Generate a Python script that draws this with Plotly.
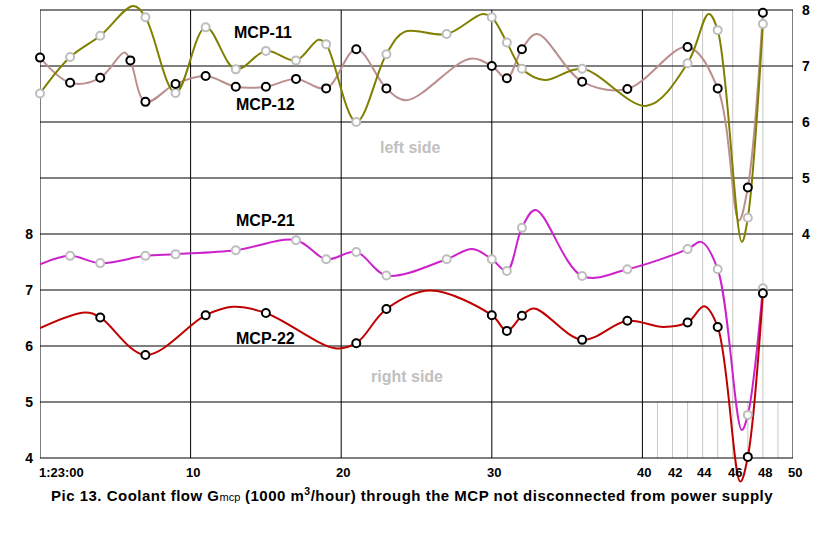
import plotly.graph_objects as go

# ---------------- data (time in seconds after 1:23:00) ----------------
# MCP-11 (right axis) : smoothed curve knots and measured points
mcp11_line_t = [0, 2, 4, 6.2, 7, 9, 11, 13, 15, 17, 18.5, 19, 21, 23, 24.2, 27, 29.4, 30, 31, 32, 33.5, 36, 40.3, 43, 44.4, 45, 46.6, 47, 48]
mcp11_line_v = [6.51, 7.16, 7.54, 8.07, 7.87, 6.52, 7.69, 6.94, 7.27, 7.10, 7.47, 7.39, 6.00, 7.21, 7.61, 7.57, 7.93, 7.87, 7.42, 6.95, 6.75, 6.95, 6.29, 7.05, 7.93, 7.64, 3.86, 4.29, 7.75]
mcp11_pt_t = [0, 2, 4, 7, 9, 11, 13, 15, 17, 19, 21, 23, 27, 30, 31, 32, 36, 43, 45, 47, 48]
mcp11_pt_v = [6.51, 7.16, 7.54, 7.87, 6.52, 7.69, 6.94, 7.27, 7.10, 7.39, 6.00, 7.21, 7.57, 7.87, 7.42, 6.95, 6.95, 7.05, 7.64, 4.29, 7.75]

# MCP-12 (right axis)
mcp12_line_t = [0, 2, 4, 5.6, 6, 7, 9, 11, 13, 15, 17, 19, 21, 23, 24.35, 28.55, 30, 31, 32, 33, 36, 39, 43, 45, 46.4, 47, 48]
mcp12_line_v = [7.15, 6.70, 6.79, 7.24, 7.10, 6.36, 6.68, 6.82, 6.63, 6.63, 6.77, 6.60, 7.30, 6.60, 6.39, 7.13, 7.00, 6.78, 7.30, 7.57, 6.72, 6.59, 7.34, 6.60, 4.24, 4.83, 7.95]
mcp12_pt_t = [0, 2, 4, 6, 7, 9, 11, 13, 15, 17, 19, 21, 23, 30, 31, 32, 36, 39, 43, 45, 47, 48]
mcp12_pt_v = [7.15, 6.70, 6.79, 7.10, 6.36, 6.68, 6.82, 6.63, 6.63, 6.77, 6.60, 7.30, 6.60, 7.00, 6.78, 7.30, 6.72, 6.59, 7.34, 6.60, 4.83, 7.95]

# MCP-21 (left axis)
mcp21_line_t = [0, 2, 4, 7, 9, 13, 17, 19, 21, 23, 27, 28.7, 30, 31, 32, 32.9, 36, 39, 43, 43.9, 45, 46.6, 47, 48]
mcp21_line_v = [7.46, 7.61, 7.48, 7.61, 7.64, 7.71, 7.89, 7.55, 7.68, 7.26, 7.55, 7.73, 7.55, 7.34, 8.11, 8.43, 7.25, 7.37, 7.73, 7.86, 7.37, 4.50, 4.77, 7.03]
mcp21_pt_t = [2, 4, 7, 9, 13, 17, 19, 21, 23, 27, 30, 31, 32, 36, 39, 43, 45, 47, 48]
mcp21_pt_v = [7.61, 7.48, 7.61, 7.64, 7.71, 7.89, 7.55, 7.68, 7.26, 7.55, 7.55, 7.34, 8.11, 7.25, 7.37, 7.73, 7.37, 4.77, 7.03]

# MCP-22 (left axis)
mcp22_line_t = [0, 3, 4, 7, 11, 12.8, 15, 19.6, 21, 23, 25.9, 30, 31, 32, 32.8, 36, 39, 41.4, 43, 44.1, 45, 46.5, 47, 48]
mcp22_line_v = [6.32, 6.60, 6.51, 5.84, 6.55, 6.70, 6.59, 5.96, 6.05, 6.66, 6.99, 6.55, 6.27, 6.54, 6.67, 6.11, 6.45, 6.34, 6.42, 6.71, 6.34, 3.58, 4.02, 6.94]
mcp22_pt_t = [4, 7, 11, 15, 21, 23, 30, 31, 32, 36, 39, 43, 45, 47, 48]
mcp22_pt_v = [6.51, 5.84, 6.55, 6.59, 6.05, 6.66, 6.55, 6.27, 6.54, 6.11, 6.45, 6.42, 6.34, 4.02, 6.94]

x_tick_vals = [0, 10, 20, 30, 40, 42, 44, 46, 48, 50]
x_tick_text = ["1:23:00", "10", "20", "30", "40", "42", "44", "46", "48", "50"]
x_major_grid = [0, 10, 20, 30, 40, 50]
left_tick_vals = [4, 5, 6, 7, 8]
h_grid_left = [4, 5, 6, 7, 8, 9, 10, 11, 12]
right_tick_vals = [4, 5, 6, 7, 8]
fine_grid_full = [42, 44, 46, 48]
fine_grid_band = [41, 43, 45, 47, 49]

FONT = "Liberation Sans, Arial, sans-serif"
C11, C12, C21, C22 = "#808000", "#BC8F8F", "#CC22CC", "#C00000"
GRAY_M = "#BEBEBE"

# frame of the chart in left-axis units (4..12); axis ranges are a bit wider
# so that curves may run past the frame as in the original
Y_LO, Y_HI = 4, 12

fig = go.Figure()

def add_line(t, v, color, yaxis):
    fig.add_trace(go.Scatter(x=t, y=v, mode="lines", yaxis=yaxis,
                             line=dict(color=color, width=2, shape="spline", smoothing=1.0),
                             hoverinfo="skip"))

def add_pts(t, v, edge, yaxis):
    fig.add_trace(go.Scatter(x=t, y=v, mode="markers", yaxis=yaxis,
                             marker=dict(symbol="circle", size=8, color="white",
                                         line=dict(color=edge, width=2)),
                             hoverinfo="skip", cliponaxis=False))

add_line(mcp12_line_t, mcp12_line_v, C12, "y2")
add_line(mcp11_line_t, mcp11_line_v, C11, "y2")
add_line(mcp21_line_t, mcp21_line_v, C21, "y")
add_line(mcp22_line_t, mcp22_line_v, C22, "y")
add_pts(mcp11_pt_t, mcp11_pt_v, GRAY_M, "y2")
add_pts(mcp12_pt_t, mcp12_pt_v, "black", "y2")
add_pts(mcp21_pt_t, mcp21_pt_v, GRAY_M, "y")
add_pts(mcp22_pt_t, mcp22_pt_v, "black", "y")

shapes = []
for xv in fine_grid_full:
    shapes.append(dict(type="line", xref="x", yref="y", x0=xv, x1=xv, y0=Y_LO, y1=Y_HI,
                       line=dict(color="#C8C8C8", width=1), layer="below"))
for xv in fine_grid_band:
    shapes.append(dict(type="line", xref="x", yref="y", x0=xv, x1=xv, y0=Y_LO, y1=Y_LO + 1,
                       line=dict(color="#C8C8C8", width=1), layer="below"))
for yv in h_grid_left:
    shapes.append(dict(type="line", xref="x", yref="y", x0=0, x1=50, y0=yv, y1=yv,
                       line=dict(color="black", width=1), layer="below"))
for xv in x_major_grid:
    shapes.append(dict(type="line", xref="x", yref="y", x0=xv, x1=xv, y0=Y_LO, y1=Y_HI,
                       line=dict(color="black", width=1), layer="below"))

annotations = []
for xv, txt in zip(x_tick_vals, x_tick_text):
    annotations.append(dict(x=xv, y=3.74, xref="x", yref="y", text="<b>%s</b>" % txt,
                            showarrow=False, xanchor="left" if xv == 0 else "center",
                            xshift=-3 if xv == 0 else 2, yanchor="middle",
                            font=dict(family=FONT, size=13, color="black")))

labels = [
    (14.8, 7.59, "MCP-11", "y2", "black"),
    (14.95, 6.32, "MCP-12", "y2", "black"),
    (24.57, 5.55, "left side", "y2", "#C0C0C0"),
    (15.0, 8.25, "MCP-21", "y", "black"),
    (15.0, 6.14, "MCP-22", "y", "black"),
    (24.37, 5.46, "right side", "y", "#C0C0C0"),
]
for xv, yv, txt, yr, col in labels:
    annotations.append(dict(x=xv, y=yv, xref="x", yref=yr, text="<b>%s</b>" % txt,
                            showarrow=False, xanchor="center", yanchor="middle",
                            font=dict(family=FONT, size=16, color=col)))

annotations.append(dict(
    x=0.494, y=-0.0186, xref="paper", yref="paper", showarrow=False,
    xanchor="center", yanchor="middle",
    text="<span style='letter-spacing:0.5px'><b>Pic 13. Coolant flow G</b>"
         "<span style='font-size:11px;letter-spacing:0px'>mcp</span>"
         "<b> (1000 m<sup>3</sup>/hour) through the MCP not disconnected from power supply</b></span>",
    font=dict(family=FONT, size=15, color="black")))

fig.update_layout(
    width=840, height=560,
    margin=dict(l=40, r=47, t=3, b=74, autoexpand=False),
    paper_bgcolor="white", plot_bgcolor="white",
    showlegend=False, hovermode=False,
    shapes=shapes, annotations=annotations,
    xaxis=dict(range=[0, 50], showticklabels=False, showgrid=False, zeroline=False,
               showline=False, ticks="", automargin=False),
    yaxis=dict(range=[3.5, 12.125], tickvals=left_tick_vals,
               showgrid=False, zeroline=False, showline=False, ticks="",
               ticklabelstandoff=6, automargin=False,
               tickfont=dict(family=FONT, size=14, color="black", weight="bold")),
    yaxis2=dict(range=[-0.5, 8.125], overlaying="y", side="right", tickvals=right_tick_vals,
                showgrid=False, zeroline=False, showline=False, ticks="",
                ticklabelstandoff=8, automargin=False,
                tickfont=dict(family=FONT, size=14, color="black", weight="bold")),
)

fig.write_html("out.html", config={"displayModeBar": False},
               post_script="document.body.style.margin='0';document.body.style.overflow='hidden';")
